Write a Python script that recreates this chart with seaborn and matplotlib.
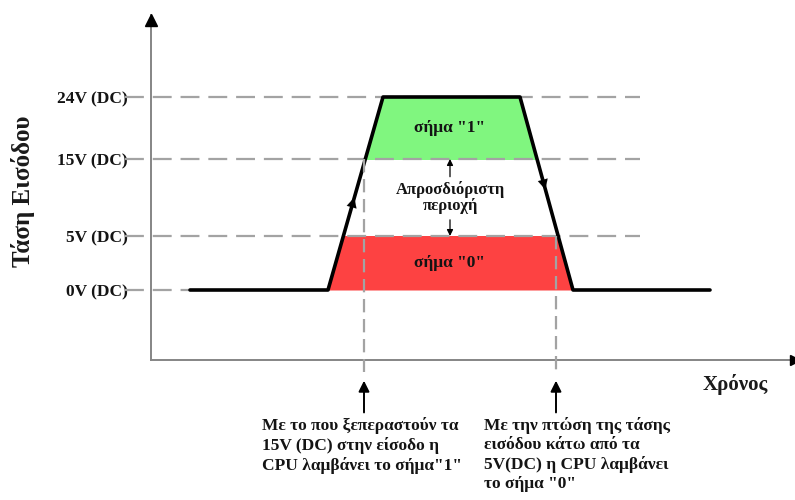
import numpy as np
import matplotlib
matplotlib.use('Agg')
import matplotlib.pyplot as plt
from matplotlib.patches import Rectangle
import seaborn as sns

# Données du signal (temps en unités arbitraires, tension en V)
times = [3.9, 17.7, 23.2, 36.9, 42.2, 55.9]
volts = [0, 0, 24, 24, 0, 0]

levels = [0, 5, 15, 24]
level_labels = ['0V (DC)', '5V (DC)', '15V (DC)', '24V (DC)']

# instants de basculement (15V en montée, 5V en descente)
event_times = [21.3, 40.5]
event_levels = [15, 5]

left_note = 'Με το που ξεπεραστούν τα\n15V (DC) στην είσοδο η\nCPU λαμβάνει το σήμα"1"'
right_note = 'Με την πτώση της τάσης\nεισόδου κάτω από τα\n5V(DC) η CPU λαμβάνει\nτο σήμα "0"'

# échelle schématique (non linéaire) de l'axe des tensions
V_KNOTS = [-40, 0, 5, 15, 24, 60]
P_KNOTS = [-432, 0, 54, 131, 193, 441]


def fwd(v):
    return np.interp(v, V_KNOTS, P_KNOTS)


def inv(p):
    return np.interp(p, P_KNOTS, V_KNOTS)


sns.set_theme(style='white')
plt.rcParams['font.family'] = ['Liberation Serif', 'DejaVu Serif']
plt.rcParams['font.weight'] = 'bold'

GREEN = '#80f67f'
RED = '#fd4242'
DASH = '#a3a3a3'
AXIS = '#858585'
TXT = '#141414'

fig = plt.figure(figsize=(7.95, 5.0), dpi=100)
ax = fig.add_axes([151 / 795, 140 / 500, 644 / 795, 345 / 500])

sns.lineplot(x=times, y=volts, ax=ax, color='black', linewidth=2.6, zorder=3)
ax.set_yscale('function', functions=(fwd, inv))
ax.set_xlim(0, 64.4)
ax.set_ylim(float(inv(-70)), float(inv(275)))

# zones colorées
for lo, hi, col in [(0, 5, RED), (15, 24, GREEN)]:
    poly = ax.fill_between(times, volts, 0, color=col, linewidth=0, zorder=2)
    clip = Rectangle((times[0], lo), times[-1] - times[0], hi - lo, transform=ax.transData)
    poly.set_clip_path(clip)

# lignes pointillées horizontales
dash_style = (0, (8.5, 4))
for lv in levels[1:]:
    ax.plot([-2.6, 48.9], [lv, lv], color=DASH, lw=1.6, ls=dash_style, zorder=2.5, clip_on=False)
ax.plot([-2.6, times[0]], [0, 0], color=DASH, lw=1.6, ls=dash_style, zorder=2.5, clip_on=False)

# lignes verticales + flèches du bas
for t, lv in zip(event_times, event_levels):
    ax.plot([t, t], [lv, float(inv(-82))], color=DASH, lw=1.6, ls=(0, (6, 3)), zorder=4, clip_on=False)
    ax.annotate('', xy=(t, -0.06), xytext=(t, -0.152),
                xycoords=('data', 'axes fraction'), textcoords=('data', 'axes fraction'),
                arrowprops=dict(arrowstyle='-|>', color='black', lw=1.4,
                                mutation_scale=16, shrinkA=0, shrinkB=0),
                annotation_clip=False)

# flèches sur le signal
f = 0.48
for (t1, v1), (t2, v2) in [((times[1], volts[1]), (times[2], volts[2])),
                           ((times[3], volts[3]), (times[4], volts[4]))]:
    p1, p2 = fwd(v1), fwd(v2)
    a = (t1 + (f - 0.03) * (t2 - t1), float(inv(p1 + (f - 0.03) * (p2 - p1))))
    b = (t1 + f * (t2 - t1), float(inv(p1 + f * (p2 - p1))))
    ax.annotate('', xy=b, xytext=a,
                arrowprops=dict(arrowstyle='-|>', color='black', lw=0.1,
                                mutation_scale=18, shrinkA=0, shrinkB=0))

# textes internes
mid1 = float(inv((fwd(15) + fwd(24)) / 2))
mid0 = float(inv((fwd(0) + fwd(5)) / 2))
ax.text(29.9, mid1, 'σήμα "1"', ha='center', va='center', fontsize=12.5, color=TXT, zorder=5)
ax.text(29.9, mid0, 'σήμα "0"', ha='center', va='center', fontsize=12.5, color=TXT, zorder=5)
ax.text(29.9, 10.0, 'Απροσδιόριστη\nπεριοχή', ha='center', va='center', fontsize=12,
        color=TXT, linespacing=0.95, zorder=5)
for y0, y1 in [(12.7, 15), (7.1, 5)]:
    ax.annotate('', xy=(29.9, y1), xytext=(29.9, y0),
                arrowprops=dict(arrowstyle='-|>', color='black', lw=0.9,
                                mutation_scale=9, shrinkA=0, shrinkB=0))

# axes
for s in ['top', 'right']:
    ax.spines[s].set_visible(False)
for s in ['left', 'bottom']:
    ax.spines[s].set_color(AXIS)
    ax.spines[s].set_linewidth(1.4)
ax.plot([0], [0.985], marker='^', color='black', ms=9, transform=ax.transAxes, clip_on=False, zorder=6)
ax.plot([1.0], [0], marker='>', color='black', ms=7, transform=ax.transAxes, clip_on=False, zorder=6)

ax.set_xticks([])
ax.set_yticks(levels, level_labels)
ax.tick_params(axis='y', length=0, pad=17, labelsize=12.5, labelcolor=TXT)

ax.set_ylabel('Τάση Εισόδου', fontsize=18, fontweight='bold', color='#1a1a1a')
ax.yaxis.set_label_coords(-0.18, 0.49)
ax.set_xlabel('Χρόνος', fontsize=15, fontweight='bold', color='#1a1a1a')
ax.xaxis.set_label_coords(0.907, -0.04)

fig.text(262 / 795, 1 - 417 / 500, left_note, ha='left', va='top', fontsize=12.5,
         color=TXT, linespacing=1.24)
fig.text(484 / 795, 1 - 417 / 500, right_note, ha='left', va='top', fontsize=12.5,
         color=TXT, linespacing=1.24)

fig.savefig('out.png', dpi=100)
